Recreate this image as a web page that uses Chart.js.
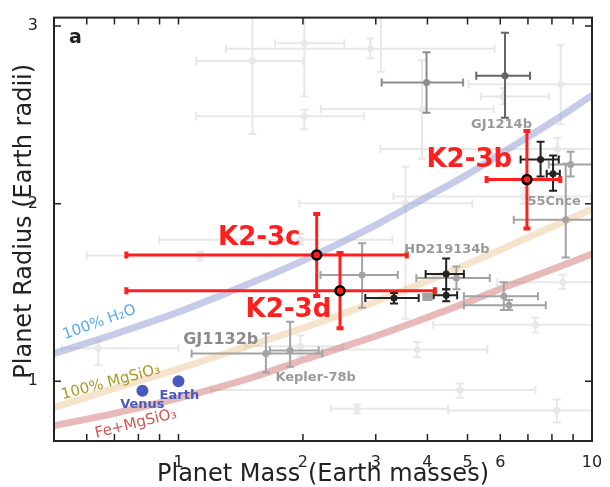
<!DOCTYPE html>
<html>
<head>
<meta charset="utf-8">
<script src="https://cdn.jsdelivr.net/npm/chart.js@4.4.0/dist/chart.umd.min.js"></script>
<style>
  html, body { margin: 0; padding: 0; background: #fff; }
</style>
</head>
<body>
<canvas id="massRadius__graph" width="610" height="487"></canvas>
<script>
// axis ticks
const massTicks = [0.6, 0.7, 0.8, 0.9, 1, 2, 3, 4, 5, 6, 7, 8, 9, 10];
const massTickLabels = ["", "", "", "", "1", "2", "3", "4", "5", "6", "", "", "", "10"];
const radiusTicks = [1, 2, 3];
const radiusTickLabels = ["1", "2", "3"];

// composition curves
const curveMass = [0.5, 0.7, 1, 1.5, 2, 3, 4, 5, 6, 8, 10];
const waterRadius = [1.157, 1.265, 1.39, 1.555, 1.68, 1.88, 2.04, 2.165, 2.28, 2.46, 2.61];
const rockRadius = [0.852, 0.96, 1.07, 1.205, 1.3, 1.45, 1.565, 1.66, 1.74, 1.87, 1.97];
const ironRockRadius = [0.75, 0.82, 0.905, 1.02, 1.12, 1.255, 1.36, 1.445, 1.52, 1.63, 1.717];

// faint background planets
const lightMass = [1.51, 2.016, 2.016, 2.91, 3.09, 3.88, 6.1, 8.4, 8.25, 3.54, 6.83, 1.971, 1.128, 0.64, 1.971, 3.78, 7.3, 4.79, 2.7, 8.22, 8.5];
const lightRadius = [2.804, 2.904, 2.493, 2.873, 3.2, 2.534, 2.604, 2.673, 2.308, 2.003, 2.04, 1.797, 1.708, 1.186, 1.197, 1.179, 1.318, 0.951, 0.846, 0.836, 1.558];
const lightMassLo = [1.104, 1.711, 1.104, 1.303, 3.09, 2.21, 5.38, 5.03, 3.08, 1.96, 3.31, 0.898, 0.6, 0.523, 1.45, 2.22, 4.13, 1.2, 2.34, 4.49, 5.9];
const lightMassHi = [2.0, 2.519, 2.81, 5.81, 3.09, 5.78, 7.86, 11, 11, 5.14, 9.93, 3.29, 2.2, 1.0, 2.5, 5.58, 11, 7.3, 4.49, 11, 11];
const lightRadiusLo = [2.392, 2.604, 2.419, 2.819, 2.743, 2.253, 2.56, 2.447, 2.264, 1.353, 2.0, 1.77, 1.68, 1.09, 1.14, 1.136, 1.275, 0.907, 0.82, 0.768, 1.52];
const lightRadiusHi = [3.1, 3.1, 2.531, 2.931, 3.3, 2.808, 2.65, 2.892, 2.37, 2.208, 2.09, 1.83, 1.73, 1.23, 1.26, 1.221, 1.36, 0.988, 0.87, 0.898, 1.6];

// gray planets
const grayMass = [1.627, 1.862, 2.78, 4.7, 6.12, 6.3, 8.64, 8.88, 4.0];
const grayRadius = [1.157, 1.173, 1.599, 1.582, 1.479, 1.429, 1.91, 2.221, 1.475];
const grayMassLo = [1.076, 1.663, 2.204, 3.76, 4.9, 4.9, 6.47, 7.86, 3.91];
const grayMassHi = [2.228, 2.183, 3.39, 5.66, 7.4, 7.73, 10.5, 11, 4.09];
const grayRadiusLo = [1.049, 1.082, 1.414, 1.518, 1.401, 1.401, 1.697, 2.153, 1.458];
const grayRadiusHi = [1.269, 1.336, 1.777, 1.647, 1.558, 1.458, 2.225, 2.292, 1.492];

// darker gray planets
const midMass = [3.98];
const midRadius = [2.682];
const midMassLo = [3.1];
const midMassHi = [4.88];
const midRadiusLo = [2.512];
const midRadiusHi = [2.853];

const darkMass = [6.16];
const darkRadius = [2.721];
const darkMassLo = [5.25];
const darkMassHi = [7.08];
const darkRadiusLo = [2.484];
const darkRadiusHi = [2.962];

// well measured planets
const blackMass = [3.32, 4.44, 4.44, 7.51, 8.05];
const blackRadius = [1.469, 1.604, 1.484, 2.249, 2.169];
const blackMassLo = [2.83, 3.96, 4.14, 6.72, 7.77];
const blackMassHi = [3.81, 4.9, 4.72, 8.31, 8.36];
const blackRadiusLo = [1.438, 1.518, 1.451, 2.153, 2.073];
const blackRadiusHi = [1.497, 1.692, 1.518, 2.349, 2.271];

// Venus, Earth
const solarMass = [0.818, 1.0];
const solarRadius = [0.947, 1.0];

// K2-3 system
const k2Names = ["K2-3b", "K2-3c", "K2-3d"];
const k2Mass = [6.96, 2.159, 2.458];
const k2Radius = [2.136, 1.711, 1.51];
const k2MassLo = [5.56, 0.748, 0.748];
const k2MassHi = [8.38, 3.565, 4.17];
const k2RadiusLo = [1.86, 1.481, 1.299];
const k2RadiusHi = [2.41, 1.942, 1.722];

const toPoints = (xs, ys) => xs.map((v, i) => ({ x: v, y: ys[i] }));

// text placed in data coordinates
const notes = [
  { text: "GJ1214b", m: 6.04, r: 2.444, color: "#999999", size: 13, bold: true },
  { text: "55Cnce", m: 8.1, r: 2.011, color: "#999999", size: 13, bold: true },
  { text: "HD219134b", m: 4.46, r: 1.741, color: "#999999", size: 13, bold: true },
  { text: "GJ1132b", m: 1.265, r: 1.236, color: "#8c8c8c", size: 16, bold: true },
  { text: "Kepler-78b", m: 2.146, r: 1.021, color: "#999999", size: 13, bold: true },
  { text: "Venus", m: 0.818, r: 0.866, color: "#4a5ab8", size: 13, bold: true },
  { text: "Earth", m: 1.005, r: 0.918, color: "#4a5ab8", size: 13, bold: true },
  { text: k2Names[0], m: 5.05, r: 2.242, color: "#ff1f1f", size: 26, bold: true },
  { text: k2Names[1], m: 1.568, r: 1.808, color: "#ff1f1f", size: 26, bold: true },
  { text: k2Names[2], m: 1.844, r: 1.401, color: "#ff1f1f", size: 26, bold: true },
  { text: "100% H\u2082O", m: 0.644, r: 1.331, color: "#5aaaee", size: 15, angle: -20 },
  { text: "100% MgSiO\u2083", m: 0.686, r: 0.994, color: "#a89a28", size: 15, angle: -15 },
  { text: "Fe+MgSiO\u2083", m: 0.789, r: 0.761, color: "#d05555", size: 15, angle: -14 },
];

const errorBars = {
  id: "errorBars",
  beforeDatasetDraw(chart, args) {
    const ds = chart.data.datasets[args.index];
    if (!ds.err) return;
    const { ctx, chartArea: a, scales: { x, y } } = chart;
    const e = ds.err;
    ctx.save();
    ctx.beginPath();
    ctx.rect(a.left, a.top, a.right - a.left, a.bottom - a.top);
    ctx.clip();
    ctx.strokeStyle = e.color;
    ds.data.forEach((p, i) => {
      const px = x.getPixelForValue(p.x);
      const py = y.getPixelForValue(p.y);
      const x0 = x.getPixelForValue(e.mLo[i]);
      const x1 = x.getPixelForValue(e.mHi[i]);
      const y0 = y.getPixelForValue(e.rLo[i]);
      const y1 = y.getPixelForValue(e.rHi[i]);
      ctx.lineWidth = e.width;
      ctx.beginPath();
      ctx.moveTo(x0, py); ctx.lineTo(x1, py);
      ctx.moveTo(px, y0); ctx.lineTo(px, y1);
      ctx.stroke();
      ctx.lineWidth = e.capWidth;
      ctx.beginPath();
      [x0, x1].forEach(cx => { ctx.moveTo(cx, py - e.cap); ctx.lineTo(cx, py + e.cap); });
      [y0, y1].forEach(cy => { ctx.moveTo(px - e.cap, cy); ctx.lineTo(px + e.cap, cy); });
      ctx.stroke();
    });
    ctx.restore();
  },
};

const frameAndNotes = {
  id: "frameAndNotes",
  afterDatasetsDraw(chart) {
    const { ctx, chartArea: a, scales: { x, y } } = chart;
    ctx.save();
    // inward ticks, all four sides
    ctx.strokeStyle = "#222";
    ctx.lineWidth = 1.5;
    ctx.beginPath();
    massTicks.forEach(v => {
      const px = x.getPixelForValue(v);
      ctx.moveTo(px, a.bottom); ctx.lineTo(px, a.bottom - 7);
      ctx.moveTo(px, a.top); ctx.lineTo(px, a.top + 7);
    });
    radiusTicks.forEach(v => {
      const py = y.getPixelForValue(v);
      ctx.moveTo(a.left, py); ctx.lineTo(a.left + 7, py);
      ctx.moveTo(a.right, py); ctx.lineTo(a.right - 7, py);
    });
    ctx.stroke();
    ctx.lineWidth = 2;
    ctx.strokeRect(a.left, a.top, a.right - a.left, a.bottom - a.top);

    // annotations
    ctx.textAlign = "center";
    ctx.textBaseline = "middle";
    notes.forEach(n => {
      ctx.save();
      ctx.translate(x.getPixelForValue(n.m), y.getPixelForValue(n.r));
      if (n.angle) ctx.rotate(n.angle * Math.PI / 180);
      ctx.font = (n.bold ? "bold " : "") + n.size + "px 'DejaVu Sans'";
      ctx.fillStyle = n.color;
      ctx.fillText(n.text, 0, 0);
      ctx.restore();
    });

    // panel letter
    ctx.font = "bold 19px 'DejaVu Sans'";
    ctx.fillStyle = "#222";
    ctx.textAlign = "left";
    ctx.textBaseline = "alphabetic";
    ctx.fillText("a", a.left + 15, a.top + 25.5);

    // y axis title
    ctx.save();
    ctx.translate(a.left - 29, (a.top + a.bottom) / 2 - 8);
    ctx.rotate(-Math.PI / 2);
    ctx.font = "24px 'DejaVu Sans'";
    ctx.fillStyle = "#222";
    ctx.textAlign = "center";
    ctx.textBaseline = "middle";
    ctx.fillText("Planet Radius (Earth radii)", 0, 0);
    ctx.restore();
    ctx.restore();
  },
};

const pointSet = (label, mass, radius, lo, hi, rlo, rhi, color, order, radiusPx) => ({
  label: label,
  data: toPoints(mass, radius),
  backgroundColor: color,
  borderWidth: 0,
  pointRadius: radiusPx,
  order: order,
  clip: 0,
  err: { mLo: lo, mHi: hi, rLo: rlo, rHi: rhi, color: color, width: 2, capWidth: 2, cap: 4 },
});

const curveSet = (label, radius, color, order) => ({
  label: label,
  data: toPoints(curveMass, radius),
  showLine: true,
  borderColor: color,
  borderWidth: 7,
  pointRadius: 0,
  cubicInterpolationMode: "monotone",
  order: order,
  clip: 0,
});

const massRadiusGraph = () => {
  Chart.defaults.font.family = "'DejaVu Sans'";
  Chart.defaults.color = "#222";

  let ctx = document.getElementById("massRadius__graph").getContext("2d");
  let myChart = new Chart(ctx, {
    type: "scatter",
    data: {
      datasets: [
        pointSet("other", lightMass, lightRadius, lightMassLo, lightMassHi, lightRadiusLo, lightRadiusHi, "#e8e8e8", 12, 3.5),
        curveSet("100% H2O", waterRadius, "rgba(150,160,215,0.55)", 11),
        curveSet("100% MgSiO3", rockRadius, "rgba(232,195,140,0.45)", 10),
        curveSet("Fe+MgSiO3", ironRockRadius, "rgba(205,100,100,0.45)", 9),
        pointSet("gray", grayMass, grayRadius, grayMassLo, grayMassHi, grayRadiusLo, grayRadiusHi, "#a3a3a3", 6, 3.5),
        pointSet("mid", midMass, midRadius, midMassLo, midMassHi, midRadiusLo, midRadiusHi, "#8c8c8c", 5, 3.5),
        pointSet("dark", darkMass, darkRadius, darkMassLo, darkMassHi, darkRadiusLo, darkRadiusHi, "#666666", 4, 3.5),
        pointSet("black", blackMass, blackRadius, blackMassLo, blackMassHi, blackRadiusLo, blackRadiusHi, "#222222", 3, 3.5),
        {
          label: "Solar system",
          data: toPoints(solarMass, solarRadius),
          backgroundColor: "#4a5ab8",
          borderWidth: 0,
          pointRadius: 6,
          order: 2,
          clip: 0,
        },
        {
          label: "K2-3",
          data: toPoints(k2Mass, k2Radius),
          backgroundColor: "#ff1f1f",
          borderColor: "#000000",
          borderWidth: 2.5,
          pointRadius: 4.5,
          order: 0,
          clip: 0,
          err: { mLo: k2MassLo, mHi: k2MassHi, rLo: k2RadiusLo, rHi: k2RadiusHi, color: "#ff1f1f", width: 3, capWidth: 4, cap: 3.5 },
        },
      ],
    },
    options: {
      responsive: false,
      animation: false,
      events: [],
      layout: { padding: { top: 12, right: 18, bottom: 0, left: 0 } },
      plugins: {
        legend: { display: false },
        tooltip: { enabled: false },
      },
      scales: {
        x: {
          type: "logarithmic",
          min: 0.5,
          max: 10,
          afterBuildTicks: (axis) => { axis.ticks = massTicks.map(v => ({ value: v })); },
          afterFit: (axis) => { axis.height = 46; },
          ticks: {
            autoSkip: false,
            maxRotation: 0,
            padding: 4,
            font: { size: 16 },
            color: "#222",
            callback: (value, index) => massTickLabels[index],
          },
          grid: { display: false },
          border: { display: false },
          title: {
            display: true,
            text: "Planet Mass (Earth masses)",
            font: { size: 24, lineHeight: 1 },
            color: "#222",
            padding: 0,
          },
        },
        y: {
          type: "linear",
          min: 0.664,
          max: 3.048,
          afterBuildTicks: (axis) => { axis.ticks = radiusTicks.map(v => ({ value: v })); },
          afterFit: (axis) => { axis.width = 54; },
          ticks: {
            padding: 8,
            font: { size: 16 },
            color: "#222",
            callback: (value, index) => radiusTickLabels[index],
          },
          grid: { display: false },
          border: { display: false },
        },
      },
    },
    plugins: [errorBars, frameAndNotes],
  });
};

massRadiusGraph();
</script>
</body>
</html>
